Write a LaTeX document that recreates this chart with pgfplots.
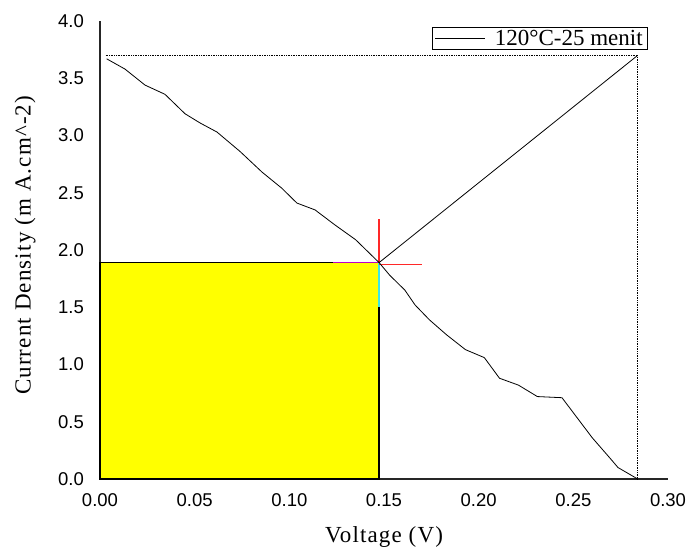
\documentclass[border=0pt]{standalone}
\usepackage{fontspec}
\setmainfont{Liberation Serif}
\newfontfamily\arialf{Liberation Sans}
\newfontfamily\titlef[LetterSpace=5]{Liberation Serif}
\usepackage{pgfplots}
\pgfplotsset{compat=1.18}
\definecolor{crossred}{RGB}{255,40,40}
\definecolor{pureyellow}{RGB}{255,255,0}
\definecolor{mpurple}{RGB}{190,0,200}
\definecolor{mcyan}{RGB}{60,230,230}
\begin{document}
\begin{tikzpicture}
\begin{axis}[
  scale only axis, width=568pt, height=458pt,
  xmin=0, xmax=0.30, ymin=0, ymax=4.0,
  axis x line*=bottom, axis y line*=left,
  axis line style={-, line width=1.1pt, black!85},
  major tick length=0pt,
  xtick={0,0.05,0.10,0.15,0.20,0.25,0.30},
  ytick={0,0.5,1.0,1.5,2.0,2.5,3.0,3.5,4.0},
  /pgf/number format/assume math mode=true,
  xticklabel style={font=\arialf\fontsize{18.5}{20}\selectfont, inner sep=0pt, yshift=-14pt,
    /pgf/number format/.cd, fixed, fixed zerofill, precision=2},
  yticklabel style={font=\arialf\fontsize{18.5}{20}\selectfont, inner sep=0pt, xshift=-16pt,
    /pgf/number format/.cd, fixed, fixed zerofill, precision=1},
  xlabel={Voltage (V)},
  ylabel={Current Density (m A.cm\textasciicircum-2)},
  xlabel style={font=\titlef\fontsize{23}{26}\selectfont, at={(axis description cs:0.5,-0.1266)}, anchor=center},
  ylabel style={font=\titlef\fontsize{23}{26}\selectfont, at={(axis description cs:-0.132,0.51)}, anchor=center},
  legend style={at={(rel axis cs:0.965,0.987)}, anchor=north east, draw=black, line width=0.9pt,
    font=\fontsize{23}{26}\selectfont, inner ysep=0.5pt, inner xsep=3pt, row sep=0pt},
  legend image code/.code={\draw[black, line width=0.8pt] (0pt,0pt) -- (50pt,0pt);},
  clip=false,
]
% yellow MPP rectangle
\addplot[forget plot, draw=black, line width=1.3pt, fill=pureyellow] coordinates {(0,0) (0,1.89) (0.1474,1.89) (0.1474,0) (0,0)} -- cycle;
% magenta and cyan marks
\addplot[forget plot, mpurple, line width=1.3pt] coordinates {(0.123,1.89) (0.1474,1.89)};
\addplot[forget plot, mcyan, line width=1.3pt] coordinates {(0.1474,1.89) (0.1474,1.50)};
% red cross
\addplot[forget plot, draw=crossred, line width=1.6pt] coordinates {(0.1474,1.875) (0.170,1.875)};
\addplot[forget plot, draw=crossred, line width=1.4pt] coordinates {(0.1474,1.89) (0.1474,2.27)};
% dotted guides
\addplot[forget plot, black, densely dotted, line width=0.7pt] coordinates {(0.003,3.70) (0.284,3.70)};
\addplot[forget plot, black, densely dotted, line width=0.7pt] coordinates {(0.284,3.70) (0.284,0)};
% diagonal
\addplot[forget plot, black, line width=0.8pt] coordinates {(0.1474,1.89) (0.284,3.70)};
% I-V curve
\addplot[black, line width=0.8pt] coordinates {
(0.0035,3.67) (0.0132,3.58) (0.0238,3.44) (0.0343,3.36) (0.0449,3.19) (0.0528,3.11)
(0.0618,3.03) (0.074,2.86) (0.0856,2.68) (0.096,2.54) (0.104,2.41) (0.1136,2.35)
(0.124,2.22) (0.135,2.09) (0.1474,1.89) (0.153,1.78) (0.161,1.65) (0.1664,1.52)
(0.174,1.39) (0.183,1.26) (0.193,1.13) (0.203,1.06) (0.211,0.88) (0.221,0.82)
(0.231,0.72) (0.244,0.71) (0.260,0.36) (0.270,0.17) (0.2736,0.10) (0.284,0)
};
\addlegendentry{\hspace{7pt}120°C-25 menit}
\coordinate (o) at (rel axis cs:0,0);
\end{axis}
\path (o) ++(-100pt,-73pt) rectangle ++(688pt,552pt);
\end{tikzpicture}
\end{document}
